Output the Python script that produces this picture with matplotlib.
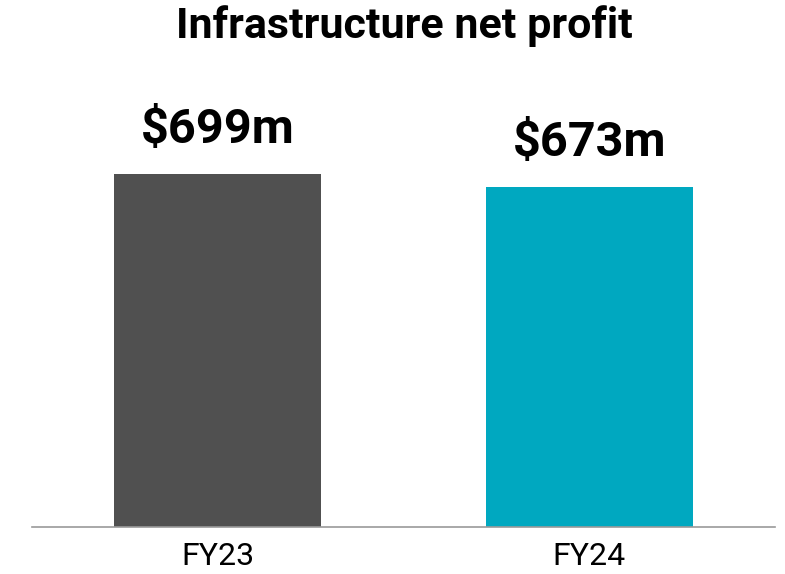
import matplotlib
matplotlib.use("Agg")
import matplotlib.pyplot as plt

categories = ["FY23", "FY24"]
values = [699, 673]
labels = ["$699m", "$673m"]
colors = ["#505050", "#00A8C0"]
title = "Infrastructure net profit"

plt.rcParams['font.family'] = ['Roboto', 'DejaVu Sans']

fig = plt.figure(figsize=(7.85, 5.74), dpi=100)
W, H = 785, 574
ax = fig.add_axes([32 / W, (H - 527) / H, (775 - 32) / W, (527 - 174) / H])
x = list(range(len(categories)))
bars = ax.bar(x, values, width=0.556, color=colors)
ax.set_xlim(-0.5, 1.5)
ax.set_ylim(0, max(values))
for b, lab in zip(bars, labels):
    ax.annotate(lab, (b.get_x() + b.get_width() / 2, b.get_height()),
                xytext=(0, 15), textcoords="offset points",
                ha="center", va="bottom", fontsize=35, fontweight="bold",
                annotation_clip=False)
ax.set_xticks(x)
ax.set_xticklabels(categories, fontsize=23)
ax.tick_params(axis="x", length=0, pad=11)
ax.set_yticks([])
for s in ["left", "right", "top"]:
    ax.spines[s].set_visible(False)
ax.spines["bottom"].set_color("#9a9a9a")
ax.spines["bottom"].set_linewidth(1.2)
fig.text(404 / W, 1 - 26 / H, title, ha="center", va="center",
         fontsize=31, fontweight="bold")
fig.savefig("out.png", dpi=100)
